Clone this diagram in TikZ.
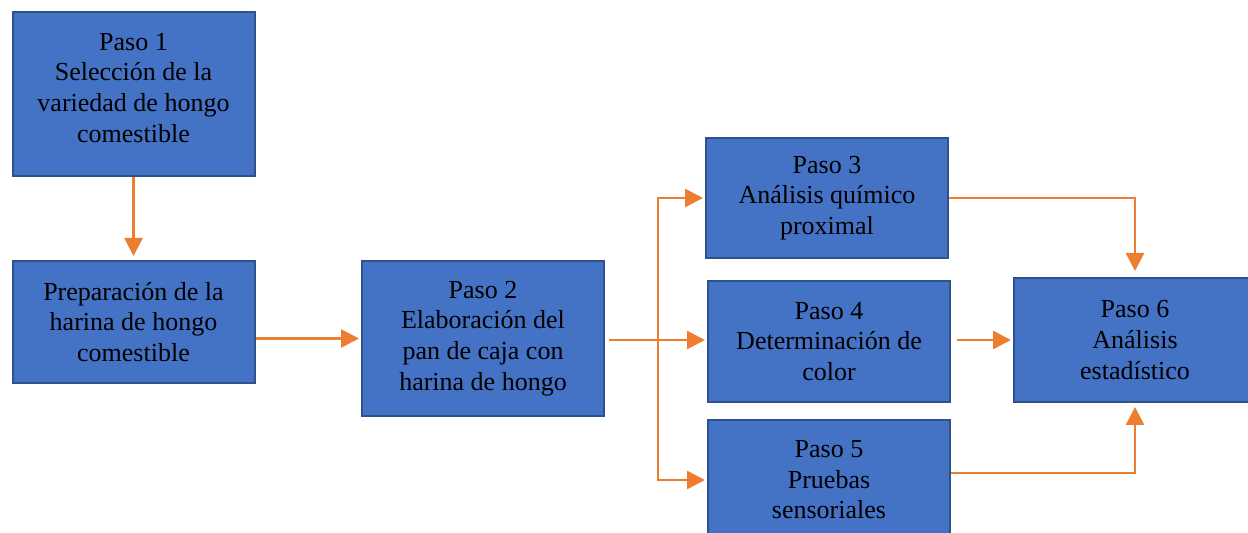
\documentclass[tikz,border=0pt]{standalone}
\usepackage{fontspec}
\setmainfont{Liberation Serif}
\usetikzlibrary{arrows.meta, positioning, calc}
\definecolor{flowblue}   {RGB}{ 68, 114, 196}
\definecolor{flowedge}   {RGB}{ 47,  82, 143}
\definecolor{floworange} {RGB}{237, 125,  49}

\begin{document}
\begin{tikzpicture}[x=0.5pt,y=-0.5pt,
		pasobox/.style={draw=flowedge, fill=flowblue, line width=1pt, minimum width=121pt,
			inner sep=0pt, align=center, font=\fontsize{13}{15.3}\selectfont},
		flow/.style={floworange, line width=1.3pt, -{Triangle[length=9pt,width=9pt]}}]
				\useasboundingbox (0,0) rectangle (1248,533);
				% cajas
				\node[pasobox, minimum height=82pt]   (p1)   at (133.5,94)  {Paso 1\\Selección de la\\variedad de hongo\\comestible\\[-9pt]};
				\node[pasobox, minimum height=61pt]   (prep) at (133.5,322) {Preparación de la\\harina de hongo\\comestible};
				\node[pasobox, minimum height=77.5pt] (p2)   at (483,338.5) {Paso 2\\Elaboración del\\pan de caja con\\harina de hongo};
				\node[pasobox, minimum height=60pt]   (p3)   at (827,198)   {Paso 3\\Análisis químico\\proximal};
				\node[pasobox, minimum height=60.5pt] (p4)   at (829,341.5) {Paso 4\\Determinación de\\color};
				\node[pasobox, minimum height=60pt]   (p5)   at (829,480)   {Paso 5\\Pruebas\\sensoriales};
				\node[pasobox, minimum height=62pt]   (p6)   at (1135,340)  {Paso 6\\Análisis\\estadístico};
				\coordinate (split) at (658,340);
				% flechas
				\draw[flow, shorten >=2pt] (p1) -- (prep);
				\draw[flow, shorten >=1pt] (prep.east |- p2.west) -- (p2.west);
				\draw[floworange, line width=1.3pt, shorten <=2pt] (p2.east |- split) -- (split);
				\draw[flow, shorten >=1pt] (split) |- (p3.west);
				\draw[flow, shorten >=1pt] (split) -- (p4.west |- split);
				\draw[flow, shorten >=1pt] (split) |- (p5.west);
				\draw[flow, shorten >=3pt] (p3.east) -| (p6.north);
				\draw[flow, shorten <=3pt, shorten >=1pt] (p4.east |- p6.west) -- (p6.west);
				\draw[flow, shorten >=2pt] (p5.east |- 0,473) -| (p6.south);
			\end{tikzpicture}
\end{document}
